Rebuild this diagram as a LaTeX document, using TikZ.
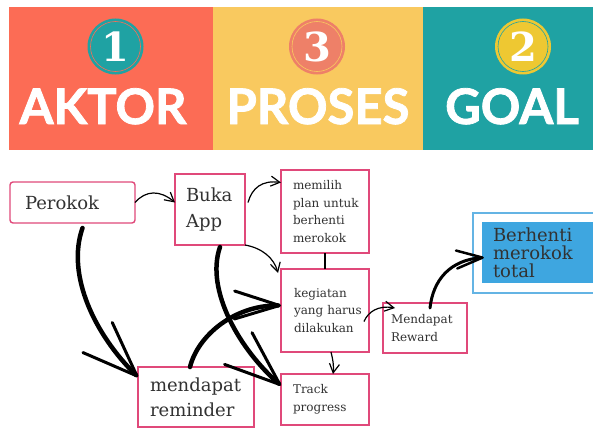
\documentclass[tikz,border=0pt]{standalone}
\usepackage{fontspec}
\setmainfont{DejaVu Serif}
\newfontfamily\headfont{Lato}[BoldFeatures={FakeBold=1.6}]
\newfontfamily\numfont{DejaVu Serif}
\usetikzlibrary{arrows.meta, positioning}
\definecolor{aktorRed}{RGB}{252,108,85}
\definecolor{prosesYellow}{RGB}{249,201,95}
\definecolor{goalTeal}{RGB}{31,162,163}
\definecolor{discSalmon}{RGB}{238,128,104}
\definecolor{discYellow}{RGB}{238,200,50}
\definecolor{boxPink}{RGB}{224,73,122}
\definecolor{goalBlue}{RGB}{62,166,224}
\definecolor{goalEdge}{RGB}{100,180,228}
\definecolor{inkGray}{RGB}{50,50,50}

\begin{document}
\begin{tikzpicture}[
    x=1pt, y=-1pt,
    box/.style={rectangle, draw=boxPink, line width=1.4pt, fill=white, align=left, outer sep=0pt, inner ysep=0pt, text=inkGray, font=\fontsize{12}{17.5}\selectfont},
    bigtext/.style={font=\fontsize{18}{26}\selectfont},
    disc/.style={circle, minimum size=56pt, inner sep=0pt, text=white, font=\numfont\bfseries\fontsize{40}{40}\selectfont},
    ring/.style={line width=0.6pt},
    title/.style={anchor=base, text=white, font=\headfont\bfseries\fontsize{49}{49}\selectfont},
    arrow/.style={-{Straight Barb[length=9pt, width=10pt]}, line width=1.2pt},
    brush/.style={line width=4.5pt, line cap=round}
]
\useasboundingbox (0,0) rectangle (593,428);

% header bands
\fill[aktorRed] (9,7) rectangle (213,150);
\fill[prosesYellow] (213,7) rectangle (423,150);
\fill[goalTeal] (423,7) rectangle (593,150);

\node[disc, fill=goalTeal] (one) at (115.5,46.5) {1};
\draw[ring, draw=aktorRed] (one.center) circle (25);
\node[disc, fill=discSalmon] (three) at (317,46.5) {3};
\draw[ring, draw=prosesYellow] (three.center) circle (25);
\node[disc, fill=discYellow] (two) at (523,46.5) {2};
\draw[ring, draw=goalTeal] (two.center) circle (25);

\node[title] (aktor) at (103,124) {AKTOR};
\node[title] (proses) at (318,124) {PROSES};
\node[title] (goaltitle) at (512,124) {GOAL};

% process boxes
\node[box, text width=64pt, inner xsep=12pt, minimum height=83pt] (memilih) at (325,211.5) {memilih\\\mbox{plan untuk}\\berhenti\\merokok};
\node[box, text width=62pt, inner xsep=13pt, minimum height=83pt, below=16pt of memilih] (kegiatan) {kegiatan\\\mbox{yang harus}\\dilakukan};
\node[box, text width=64pt, inner xsep=12pt, minimum height=51pt, below=22pt of kegiatan] (track) {Track\\progress};
\node[box, text width=68pt, inner xsep=8pt, minimum height=50pt, right=14pt of kegiatan, yshift=-17.5pt] (reward) {Mendapat\\Reward};
\node[box, bigtext, text width=48pt, inner xsep=11pt, minimum height=71pt, left=36pt of memilih, yshift=2pt] (buka) {Buka\\App};
\node[box, bigtext, rounded corners=3pt, text width=95pt, inner xsep=15pt, minimum height=41pt, left=40pt of buka, yshift=7pt] (perokok) {Perokok};
\node[box, font=\fontsize{18}{25}\selectfont, text width=92pt, inner xsep=12pt, minimum height=60pt] (reminder) at (196,397) {mendapat\\reminder};

% goal
\node[draw=goalEdge, line width=1.4pt, minimum width=130pt, minimum height=80pt, outer sep=0pt] (goalframe) at (538,253) {};
\node[rectangle, fill=goalBlue, text=inkGray, align=left, text width=94pt, inner xsep=11pt, minimum height=61pt, font=\fontsize{18}{18}\selectfont] (goal) at (540,252.5) {Berhenti\\merokok\\total};

% connectors
\draw[line width=1.2pt] (memilih.south) -- (kegiatan.north);
\draw[arrow] (perokok.east) .. controls (146,190) and (160,190) .. ([yshift=7pt]buka.west);
\draw[arrow] ([xshift=3pt,yshift=7pt]buka.east) .. controls (252,188) and (262,180) .. ([yshift=29pt]memilih.west);
\draw[arrow] (buka.south east) .. controls (262,248) and (274,258) .. ([xshift=-3pt,yshift=-4pt]kegiatan.north west);
\draw[arrow] ([xshift=-5pt,yshift=-11pt]kegiatan.east) .. controls (368,312) and (378,305) .. ([xshift=12pt,yshift=-5pt]reward.north west);
\draw[arrow] ([xshift=6pt]kegiatan.south) .. controls (333,360) and (334,367) .. ([xshift=8pt]track.north);

\draw[brush, -{Straight Barb[length=55pt, width=42pt, line width=3pt, round]}] ([xshift=10pt,yshift=-5pt]perokok.south) .. controls (66,275) and (95,335) .. ([yshift=-10pt]reminder.north west);
\draw[brush, -{Straight Barb[length=55pt, width=42pt, line width=3pt, round]}] ([xshift=10pt,yshift=-2pt]buka.south) .. controls (205,290) and (240,350) .. ([yshift=14pt]track.west);
\draw[brush, -{Straight Barb[length=45pt, width=28pt, line width=3pt, round]}] ([xshift=-6pt]reminder.north) .. controls (198,335) and (235,305) .. ([yshift=5pt]kegiatan.west);
\draw[brush, line width=3pt, -{Straight Barb[length=26pt, width=18pt, line width=2.5pt, round]}] ([xshift=5pt,yshift=-5pt]reward.north) .. controls (433,280) and (450,260) .. ([xshift=2pt,yshift=-5pt]goal.west);

\end{tikzpicture}
\end{document}
